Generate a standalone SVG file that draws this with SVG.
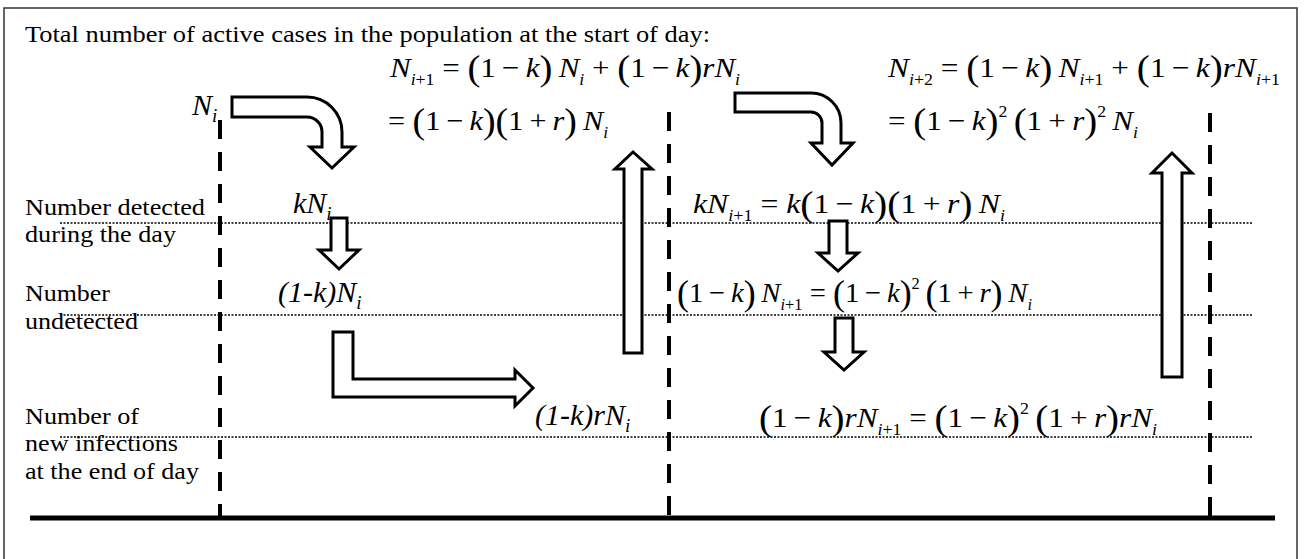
<svg xmlns="http://www.w3.org/2000/svg" width="1307" height="559" viewBox="0 0 1307 559">
<style>
.lbl { font-family: "Liberation Serif", "Times New Roman", serif; font-size: 23px; fill: #000; }
.it { font-family: "Liberation Serif", "Times New Roman", serif; font-style: italic; font-size: 30px; fill: #000; }
.m { font-family: "Liberation Serif", "Times New Roman", serif; font-size: 28px; fill: #000; white-space: pre; }
.i { font-style: italic; }
.s { font-size: 16px; }
.ls { font-size: 19px; }
.p { font-size: 35px; }
.blk { fill: #fff; stroke: #000; stroke-width: 3; stroke-linejoin: miter; }
.dash { stroke: #000; stroke-width: 4; stroke-dasharray: 19 13; fill: none; }
.dot { stroke: #000; stroke-width: 1.5; stroke-dasharray: 2 1.5; fill: none; }
</style>
<rect x="4" y="8" width="1293" height="620" fill="#fff" stroke="#333" stroke-width="1.5"/>

<g id="gridlines">
  <line class="dot" x1="60" y1="223" x2="1253" y2="223"/>
  <line class="dot" x1="60" y1="315" x2="1253" y2="315"/>
  <line class="dot" x1="60" y1="437" x2="1253" y2="437"/>
  <line class="dash" x1="220" y1="120" x2="220" y2="518"/>
  <line class="dash" x1="669" y1="112" x2="669" y2="518"/>
  <line class="dash" x1="1210" y1="113" x2="1210" y2="518"/>
  <line x1="30" y1="518" x2="1275" y2="518" stroke="#000" stroke-width="5"/>
</g>

<g id="connectors">
  <path class="blk" d="M232,97 H307 A35,35 0 0 1 342,132 V147 H354 L332,168 L310,147 H322 V132 A15,15 0 0 0 307,117 H232 Z"/>
  <path class="blk" d="M735,93 H811 A30,30 0 0 1 841,123 V143 H853 L832,165 L811,143 H822 V123 A11,11 0 0 0 811,112 H735 Z"/>
  <path class="blk" d="M331,218 H347 V250 H359 L339,269 L319,250 H331 Z"/>
  <path class="blk" d="M333,332 H353 V379 H515 V370 L533,388 L515,406 V397 H333 Z"/>
  <path class="blk" d="M624,353 V169 H615 L633,152 L652,169 H642 V353 Z"/>
  <path class="blk" d="M829,221 H847 V253 H858 L838,271 L818,253 H829 Z"/>
  <path class="blk" d="M835,318 H853 V352 H864 L844,370 L824,352 H835 Z"/>
  <path class="blk" d="M1162,377 V173 H1152 L1172,153 L1192,173 H1182 V377 Z"/>
</g>

<g id="title"><text class="lbl" x="25" y="42" textLength="685" lengthAdjust="spacingAndGlyphs">Total number of active cases in the population at the start of day:</text></g>
<g id="label-detected"><text class="lbl" x="25" y="215" textLength="180" lengthAdjust="spacingAndGlyphs">Number detected</text><text class="lbl" x="25" y="242" textLength="151" lengthAdjust="spacingAndGlyphs">during the day</text></g>
<g id="label-undetected"><text class="lbl" x="25" y="301" textLength="85" lengthAdjust="spacingAndGlyphs">Number</text><text class="lbl" x="25" y="329" textLength="113" lengthAdjust="spacingAndGlyphs">undetected</text></g>
<g id="label-new"><text class="lbl" x="25" y="424" textLength="114" lengthAdjust="spacingAndGlyphs">Number of</text><text class="lbl" x="25" y="451" textLength="153" lengthAdjust="spacingAndGlyphs">new infections</text><text class="lbl" x="25" y="479" textLength="174" lengthAdjust="spacingAndGlyphs">at the end of day</text></g>

<g id="node-Ni"><text class="it" x="192" y="115">N<tspan class="ls" baseline-shift="-7">i</tspan></text></g>
<g id="node-kNi"><text class="it" x="293" y="213">kN<tspan class="ls" baseline-shift="-7">i</tspan></text></g>
<g id="node-1kNi"><text class="it" x="278" y="302">(1-k)N<tspan class="ls" baseline-shift="-7">i</tspan></text></g>
<g id="node-1krNi"><text class="it" x="535" y="425">(1-k)rN<tspan class="ls" baseline-shift="-7">i</tspan></text></g>

<g id="node-Ni1"><text class="m" x="390" y="77" textLength="350" lengthAdjust="spacingAndGlyphs"><tspan class="i">N</tspan><tspan class="s" baseline-shift="-8"><tspan class="i">i</tspan>+1</tspan> = <tspan class="p" baseline-shift="-3">(</tspan>1&#8201;&#8722;&#8201;<tspan class="i">k</tspan><tspan class="p" baseline-shift="-3">)</tspan>&#8201;<tspan class="i">N</tspan><tspan class="s i" baseline-shift="-8">i</tspan> + <tspan class="p" baseline-shift="-3">(</tspan>1&#8201;&#8722;&#8201;<tspan class="i">k</tspan><tspan class="p" baseline-shift="-3">)</tspan><tspan class="i">rN</tspan><tspan class="s i" baseline-shift="-8">i</tspan></text><text class="m" x="388" y="130" textLength="220" lengthAdjust="spacingAndGlyphs">= <tspan class="p" baseline-shift="-3">(</tspan>1&#8201;&#8722;&#8201;<tspan class="i">k</tspan><tspan class="p" baseline-shift="-3">)(</tspan>1&#8201;+&#8201;<tspan class="i">r</tspan><tspan class="p" baseline-shift="-3">)</tspan>&#8201;<tspan class="i">N</tspan><tspan class="s i" baseline-shift="-8">i</tspan></text></g>

<g id="node-Ni2"><text class="m" x="888" y="77" textLength="392" lengthAdjust="spacingAndGlyphs"><tspan class="i">N</tspan><tspan class="s" baseline-shift="-8"><tspan class="i">i</tspan>+2</tspan> = <tspan class="p" baseline-shift="-3">(</tspan>1&#8201;&#8722;&#8201;<tspan class="i">k</tspan><tspan class="p" baseline-shift="-3">)</tspan>&#8201;<tspan class="i">N</tspan><tspan class="s" baseline-shift="-8"><tspan class="i">i</tspan>+1</tspan> + <tspan class="p" baseline-shift="-3">(</tspan>1&#8201;&#8722;&#8201;<tspan class="i">k</tspan><tspan class="p" baseline-shift="-3">)</tspan><tspan class="i">rN</tspan><tspan class="s" baseline-shift="-8"><tspan class="i">i</tspan>+1</tspan></text><text class="m" x="888" y="130" textLength="250" lengthAdjust="spacingAndGlyphs">= <tspan class="p" baseline-shift="-3">(</tspan>1&#8201;&#8722;&#8201;<tspan class="i">k</tspan><tspan class="p" baseline-shift="-3">)</tspan><tspan class="s" baseline-shift="13">2</tspan>&#8201;<tspan class="p" baseline-shift="-3">(</tspan>1&#8201;+&#8201;<tspan class="i">r</tspan><tspan class="p" baseline-shift="-3">)</tspan><tspan class="s" baseline-shift="13">2</tspan>&#8201;<tspan class="i">N</tspan><tspan class="s i" baseline-shift="-8">i</tspan></text></g>

<g id="node-kNi1"><text class="m" x="693" y="213" textLength="312" lengthAdjust="spacingAndGlyphs"><tspan class="i">kN</tspan><tspan class="s" baseline-shift="-8"><tspan class="i">i</tspan>+1</tspan> = <tspan class="i">k</tspan><tspan class="p" baseline-shift="-3">(</tspan>1&#8201;&#8722;&#8201;<tspan class="i">k</tspan><tspan class="p" baseline-shift="-3">)(</tspan>1&#8201;+&#8201;<tspan class="i">r</tspan><tspan class="p" baseline-shift="-3">)</tspan>&#8201;<tspan class="i">N</tspan><tspan class="s i" baseline-shift="-8">i</tspan></text></g>

<g id="node-1kNi1"><text class="m" x="677" y="302" textLength="355" lengthAdjust="spacingAndGlyphs"><tspan class="p" baseline-shift="-3">(</tspan>1&#8201;&#8722;&#8201;<tspan class="i">k</tspan><tspan class="p" baseline-shift="-3">)</tspan>&#8201;<tspan class="i">N</tspan><tspan class="s" baseline-shift="-8"><tspan class="i">i</tspan>+1</tspan> = <tspan class="p" baseline-shift="-3">(</tspan>1&#8201;&#8722;&#8201;<tspan class="i">k</tspan><tspan class="p" baseline-shift="-3">)</tspan><tspan class="s" baseline-shift="13">2</tspan>&#8201;<tspan class="p" baseline-shift="-3">(</tspan>1&#8201;+&#8201;<tspan class="i">r</tspan><tspan class="p" baseline-shift="-3">)</tspan>&#8201;<tspan class="i">N</tspan><tspan class="s i" baseline-shift="-8">i</tspan></text></g>

<g id="node-1krNi1"><text class="m" x="759" y="427" textLength="398" lengthAdjust="spacingAndGlyphs"><tspan class="p" baseline-shift="-3">(</tspan>1&#8201;&#8722;&#8201;<tspan class="i">k</tspan><tspan class="p" baseline-shift="-3">)</tspan><tspan class="i">rN</tspan><tspan class="s" baseline-shift="-8"><tspan class="i">i</tspan>+1</tspan> = <tspan class="p" baseline-shift="-3">(</tspan>1&#8201;&#8722;&#8201;<tspan class="i">k</tspan><tspan class="p" baseline-shift="-3">)</tspan><tspan class="s" baseline-shift="13">2</tspan>&#8201;<tspan class="p" baseline-shift="-3">(</tspan>1&#8201;+&#8201;<tspan class="i">r</tspan><tspan class="p" baseline-shift="-3">)</tspan><tspan class="i">rN</tspan><tspan class="s i" baseline-shift="-8">i</tspan></text></g>
</svg>
